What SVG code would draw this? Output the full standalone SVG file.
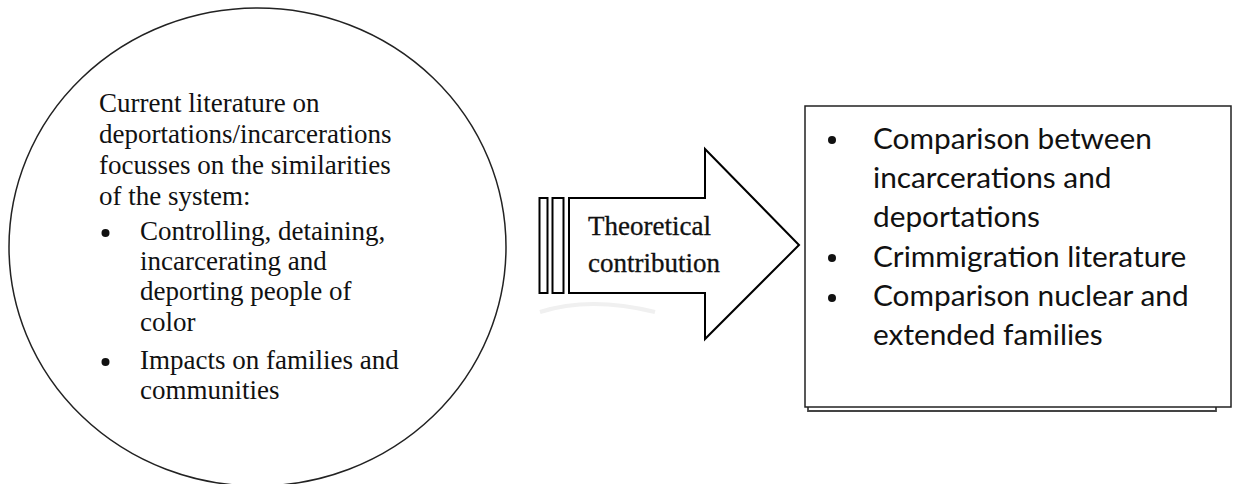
<svg xmlns="http://www.w3.org/2000/svg" width="1238" height="484" viewBox="0 0 1238 484">
<style>
.serif{font-family:"Liberation Serif","Times New Roman",serif;font-size:27px;fill:#111}
.sans{font-family:Lato,"Open Sans",sans-serif;font-size:29.8px;fill:#111}
.outline{fill:#fff;stroke:#222;stroke-width:1.5}
.heavy{fill:#fff;stroke:#000;stroke-width:2}
</style>
<rect width="1238" height="484" fill="#fff"/>
<g id="node-literature">
<ellipse class="outline" cx="257.5" cy="247" rx="248.5" ry="239"/>
<text class="serif" x="99" y="112">Current literature on</text>
<text class="serif" x="99" y="143">deportations/incarcerations</text>
<text class="serif" x="99" y="174">focusses on the similarities</text>
<text class="serif" x="99" y="205">of the system:</text>
<circle cx="105.5" cy="233" r="4" fill="#111"/>
<text class="serif" x="140" y="240">Controlling, detaining,</text>
<text class="serif" x="140" y="270">incarcerating and</text>
<text class="serif" x="140" y="300">deporting people of</text>
<text class="serif" x="140" y="331">color</text>
<circle cx="105.5" cy="362" r="4" fill="#111"/>
<text class="serif" x="140" y="369">Impacts on families and</text>
<text class="serif" x="140" y="399">communities</text>
</g>
<g id="connectors">
<g id="arrow-theoretical">
<path d="M540 312 Q590 296 655 312" fill="none" stroke="#f0f0f0" stroke-width="4"/>
<rect class="heavy" x="539.5" y="198" width="8" height="95"/>
<rect class="heavy" x="552.5" y="198" width="11" height="95"/>
<polygon class="heavy" points="569,198 705,198 705,149 799,245 705,339 705,293 569,293"/>
<text class="serif" x="588" y="235" stroke="#111" stroke-width="0.3">Theoretical</text>
<text class="serif" x="588" y="272" stroke="#111" stroke-width="0.3">contribution</text>
</g>
</g>
<g id="node-contribution">
<polyline points="808,407 808,411 1216,411 1216,407" fill="none" stroke="#444" stroke-width="1.8"/>
<rect class="outline" x="805" y="106" width="426" height="301" stroke="#444"/>
<circle cx="832" cy="140" r="4" fill="#111"/>
<text class="sans" x="873" y="149">Comparison between</text>
<text class="sans" x="873" y="188">incarcerations and</text>
<text class="sans" x="873" y="227">deportations</text>
<circle cx="832" cy="258" r="4" fill="#111"/>
<text class="sans" x="873" y="267">Crimmigration literature</text>
<circle cx="832" cy="298" r="4" fill="#111"/>
<text class="sans" x="873" y="306">Comparison nuclear and</text>
<text class="sans" x="873" y="345">extended families</text>
</g>
</svg>
